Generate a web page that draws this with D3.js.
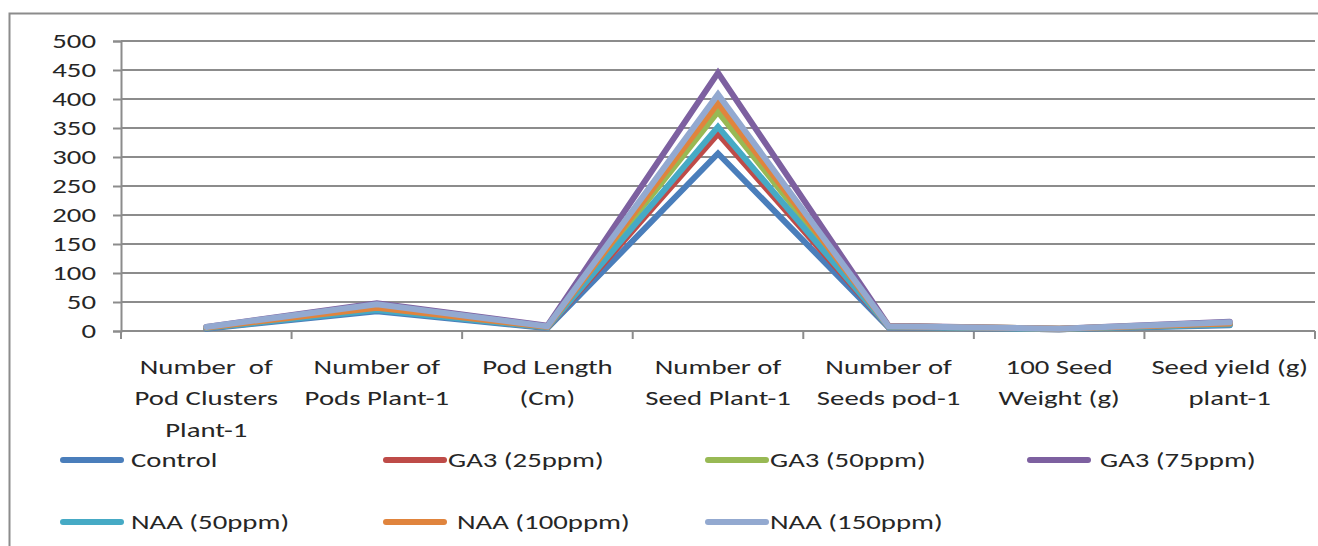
<!DOCTYPE html>
<html>
<head>
<meta charset="utf-8">
<script src="https://cdn.jsdelivr.net/npm/d3@7"></script>
<style>
  body { margin: 0; background: #fff; }
  svg text { font-family: Carlito, "Liberation Sans Narrow", "Open Sans", sans-serif; fill: #262626; }
</style>
</head>
<body>
<svg id="chart"></svg>
<script>
// categories (x axis, wrapped as in the original)
const categories = [
  ['Number\u00a0 of', 'Pod Clusters', 'Plant-1'],
  ['Number of', 'Pods Plant-1'],
  ['Pod Length', '(Cm)'],
  ['Number of', 'Seed Plant-1'],
  ['Number of', 'Seeds pod-1'],
  ['100 Seed', 'Weight (g)'],
  ['Seed yield (g)', 'plant-1']
];

const seriesNames = ['Control', 'GA3 (25ppm)', 'GA3 (50ppm)', 'GA3 (75ppm)', 'NAA (50ppm)', 'NAA (100ppm)', 'NAA (150ppm)'];
const seriesColors = ['#4A7EBB', '#BE4B48', '#98B954', '#7D60A0', '#46AAC5', '#E0843D', '#93A9D0'];

const control   = [4, 34, 5, 306, 6, 3, 10];
const ga3_25    = [5, 38, 6, 340, 7, 3, 12];
const ga3_50    = [6, 42, 7, 378, 8, 4, 13];
const ga3_75    = [7, 48, 9, 445, 9, 4, 16];
const naa_50    = [5, 36, 6, 352, 7, 3, 11];
const naa_100   = [6, 40, 7, 393, 8, 4, 13];
const naa_150   = [7, 46, 8, 408, 8, 4, 15];
const seriesValues = [control, ga3_25, ga3_50, ga3_75, naa_50, naa_100, naa_150];

const yTicks = [0, 50, 100, 150, 200, 250, 300, 350, 400, 450, 500];

const config = {
  width: 1318, height: 546,
  margin: { top: 41, right: 3, bottom: 215, left: 121 }
};
const stretch = 1.37; // the original text is drawn wide

const plotW = config.width - config.margin.left - config.margin.right;
const plotH = config.height - config.margin.top - config.margin.bottom;

const svg = d3.select('#chart')
  .attr('width', config.width)
  .attr('height', config.height);

// outer chart frame
svg.append('rect')
  .attr('x', 9.5).attr('y', 13.5)
  .attr('width', 1330).attr('height', 560)
  .attr('fill', 'none')
  .attr('stroke', '#8c8c8c')
  .attr('stroke-width', 2);

const chart = svg.append('g')
  .attr('transform', `translate(${config.margin.left},${config.margin.top})`);

const xScale = d3.scaleBand()
  .domain(d3.range(categories.length))
  .range([0, plotW]);

const yScale = d3.scaleLinear()
  .domain([0, 500])
  .range([plotH, 0]);

// gridlines
chart.append('g')
  .selectAll('line')
  .data(yTicks)
  .join('line')
  .attr('x1', 0).attr('x2', plotW)
  .attr('y1', d => yScale(d)).attr('y2', d => yScale(d))
  .attr('stroke', '#8c8c8c')
  .attr('stroke-width', 2);

// y axis
const yAxisG = chart.append('g')
  .call(d3.axisLeft(yScale).tickValues(yTicks).tickSize(8));
yAxisG.select('.domain').attr('stroke', '#8c8c8c').attr('stroke-width', 2);
yAxisG.selectAll('.tick line').attr('stroke', '#8c8c8c').attr('stroke-width', 2);
yAxisG.selectAll('.tick text')
  .attr('x', 0)
  .attr('transform', `translate(-25,0) scale(${stretch},1)`)
  .attr('font-size', 21)
  .style('font-family', 'Carlito, "Liberation Sans Narrow", "Open Sans", sans-serif')
  .attr('fill', '#262626');

// x axis line and ticks at category boundaries
const xAxisG = chart.append('g')
  .attr('transform', `translate(0,${plotH})`);
xAxisG.append('line')
  .attr('x1', 0).attr('x2', plotW)
  .attr('stroke', '#8c8c8c').attr('stroke-width', 2);
xAxisG.selectAll('.xtick')
  .data(d3.range(categories.length + 1))
  .join('line')
  .attr('class', 'xtick')
  .attr('x1', d => d * xScale.bandwidth()).attr('x2', d => d * xScale.bandwidth())
  .attr('y1', 0).attr('y2', 8)
  .attr('stroke', '#8c8c8c').attr('stroke-width', 2);

xAxisG.selectAll('.xlabel')
  .data(categories)
  .join('text')
  .attr('class', 'xlabel')
  .attr('text-anchor', 'middle')
  .attr('font-size', 21)
  .attr('transform', (d, i) => `translate(${xScale(i) + xScale.bandwidth() / 2},43) scale(${stretch},1)`)
  .selectAll('tspan')
  .data(d => d)
  .join('tspan')
  .attr('x', 0)
  .attr('dy', (d, i) => i === 0 ? 0 : 31.5)
  .text(d => d);

// lines
const line = d3.line()
  .x((d, i) => xScale(i) + xScale.bandwidth() / 2)
  .y(d => yScale(d));

chart.append('g')
  .selectAll('path')
  .data(seriesValues)
  .join('path')
  .attr('d', d => line(d))
  .attr('fill', 'none')
  .attr('stroke', (d, i) => seriesColors[i])
  .attr('stroke-width', 6)
  .attr('stroke-linejoin', 'miter')
  .attr('stroke-linecap', 'round');

// legend
const legendX = [63, 386, 708, 1030];
const legendTextGap = [68, 62, 62, 70, 68, 71, 62];
const legendItems = svg.append('g')
  .selectAll('g')
  .data(seriesNames)
  .join('g')
  .attr('transform', (d, i) => `translate(${legendX[i % 4]},${i < 4 ? 460 : 522})`);

legendItems.append('line')
  .attr('x1', 0).attr('x2', 58)
  .attr('stroke', (d, i) => seriesColors[i])
  .attr('stroke-width', 6)
  .attr('stroke-linecap', 'round');

legendItems.append('text')
  .attr('transform', (d, i) => `translate(${legendTextGap[i]},0) scale(${stretch},1)`)
  .attr('dy', '0.35em')
  .attr('font-size', 21)
  .text(d => d);
</script>
</body>
</html>
